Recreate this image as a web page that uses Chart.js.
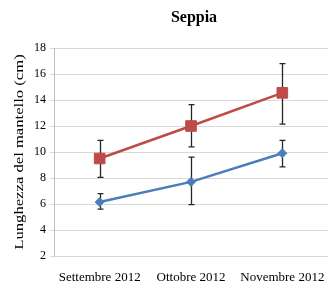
<!DOCTYPE html>
<html><head><meta charset="utf-8">
<script src="https://cdn.jsdelivr.net/npm/chart.js@4"></script>
<style>html,body{margin:0;padding:0;background:#fff}#c{display:block}</style>
</head><body>
<canvas id="c" width="328" height="288"></canvas>
<script>
const categories = ["Settembre 2012", "Ottobre 2012", "Novembre 2012"];
const blueValues = [6.15, 7.7, 9.9];
const blueUpper = [6.8, 9.6, 10.9];
const blueLower = [5.6, 5.95, 8.85];
const redValues = [9.5, 12.0, 14.55];
const redUpper = [10.9, 13.65, 16.8];
const redLower = [8.05, 10.4, 12.15];
const titleText = "Seppia";
const yTitle = "Lunghezza del mantello (cm)";

const errorBars = {
  id: 'errorBars',
  beforeDatasetsDraw(chart) {
    const ctx = chart.ctx, x = chart.scales.x, y = chart.scales.y;
    const sets = [[blueUpper, blueLower], [redUpper, redLower]];
    ctx.save();
    ctx.strokeStyle = '#262626';
    ctx.lineWidth = 1.3;
    sets.forEach(([up, lo]) => {
      categories.forEach((c, i) => {
        const px = Math.round(x.getPixelForValue(i)) + 0.5;
        const yt = y.getPixelForValue(up[i]);
        const yb = y.getPixelForValue(lo[i]);
        ctx.beginPath();
        ctx.moveTo(px, yt); ctx.lineTo(px, yb);
        ctx.moveTo(px - 3, yt); ctx.lineTo(px + 3, yt);
        ctx.moveTo(px - 3, yb); ctx.lineTo(px + 3, yb);
        ctx.stroke();
      });
    });
    ctx.restore();
  }
};
const textPlugin = {
  id: 'texts',
  afterDraw(chart) {
    const ctx = chart.ctx, a = chart.chartArea;
    ctx.save();
    ctx.font = 'bold 16px "Liberation Serif"';
    ctx.fillStyle = '#000';
    ctx.textAlign = 'center';
    ctx.textBaseline = 'middle';
    ctx.fillText(titleText, (a.left + a.right) / 2 + 3, 18);
    ctx.restore();
    ctx.save();
    ctx.font = '13px "Liberation Serif"';
    ctx.fillStyle = '#000';
    ctx.textAlign = 'center';
    ctx.textBaseline = 'middle';
    ctx.translate(20, (a.top + a.bottom) / 2);
    ctx.rotate(-Math.PI / 2);
    ctx.scale(1.28, 1);
    ctx.fillText(yTitle, 0, 0);
    ctx.restore();
  }
};

new Chart(document.getElementById('c'), {
  type: 'line',
  data: {
    labels: categories,
    datasets: [
      { data: blueValues, borderColor: '#4a7ebb', backgroundColor: '#4a7ebb', borderWidth: 2.5,
        pointStyle: 'rectRot', pointRadius: 4.5, pointBorderWidth: 1, tension: 0 },
      { data: redValues, borderColor: '#be4b48', backgroundColor: '#be4b48', borderWidth: 2.5,
        pointStyle: 'rect', pointRadius: 7.5, pointBorderWidth: 1, tension: 0 }
    ]
  },
  options: {
    responsive: false, animation: false,
    layout: { autoPadding: false, padding: { top: 48, right: 0, left: 0, bottom: 0 } },
    plugins: { legend: { display: false }, tooltip: { enabled: false }, title: { display: false } },
    scales: {
      x: {
        offset: true,
        grid: { display: false, drawTicks: false },
        border: { display: false },
        ticks: { color: '#000', font: { family: 'Liberation Serif', size: 13 }, padding: 14, maxRotation: 0, autoSkip: false },
        afterFit(s) { s.height = 32; s.paddingLeft = 0; s.paddingRight = 0; }
      },
      y: {
        min: 2, max: 18,
        ticks: { stepSize: 2, color: '#000', font: { family: 'Liberation Serif', size: 12 }, padding: 4 },
        grid: { color: '#d9d9d9', lineWidth: 1, tickLength: 4 },
        border: { display: true, color: '#bfbfbf' },
        title: { display: false },
        afterFit(s) { s.width = 54; s.paddingTop = 0; s.paddingBottom = 0; }
      }
    }
  },
  plugins: [errorBars, textPlugin]
});
</script>
</body></html>
